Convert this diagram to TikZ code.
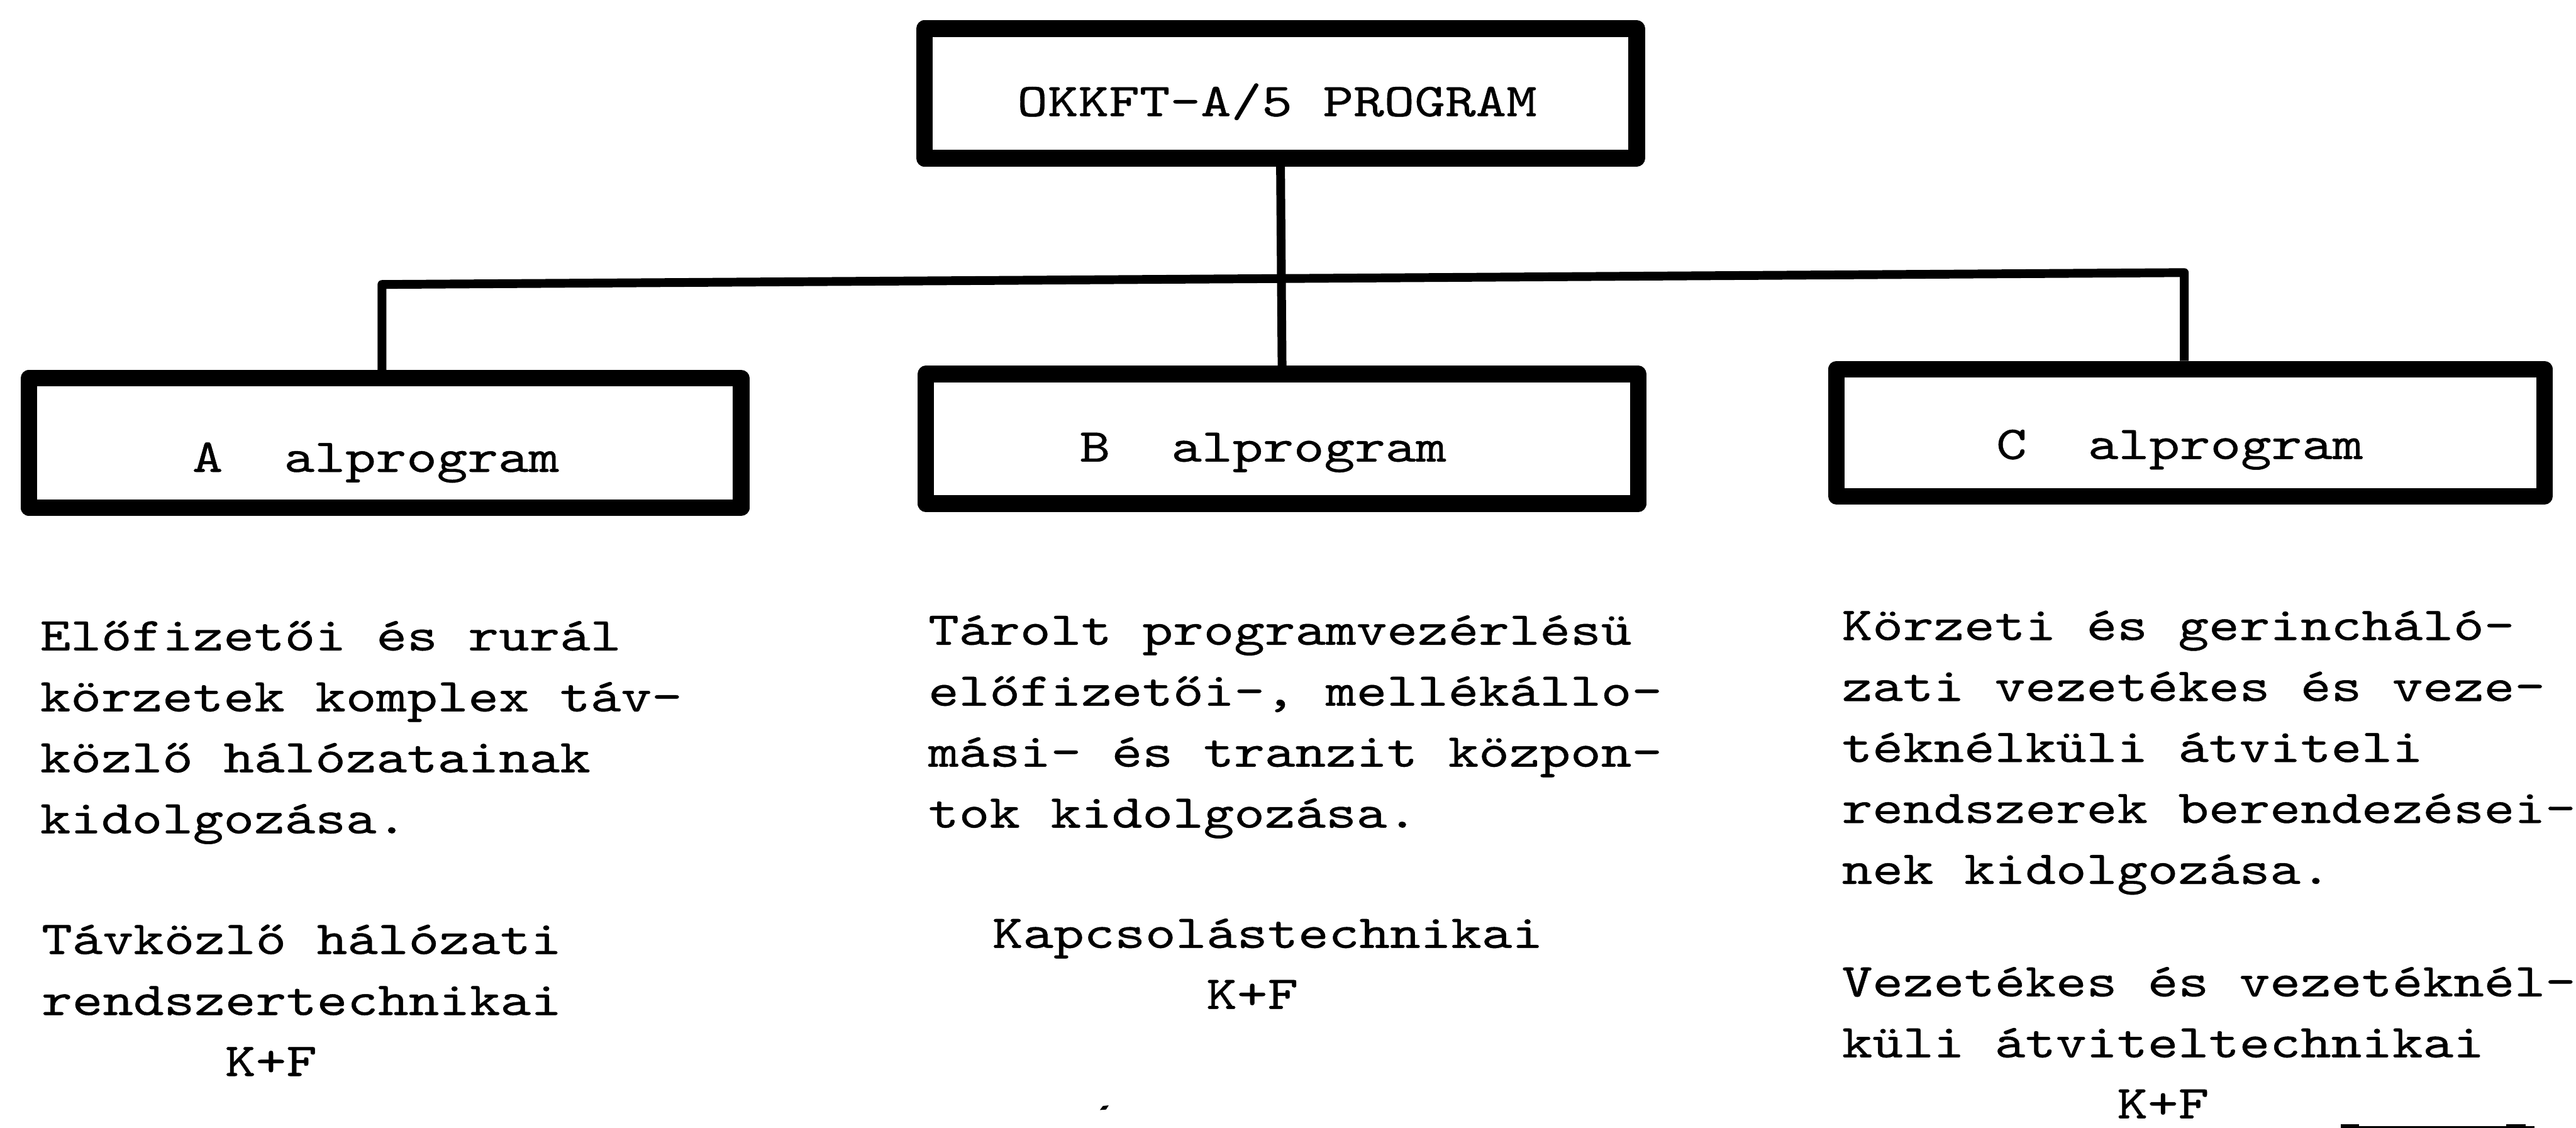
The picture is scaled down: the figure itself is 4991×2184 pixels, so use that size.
\documentclass[tikz,border=0pt]{standalone}
\usepackage{fontspec}
\newfontfamily\typewriter{lmmono10-regular}[Extension=.otf, FakeStretch=1.235, FakeBold=0.6]
\begin{document}
\begin{tikzpicture}[x=0.1mm,y=-0.1mm,
  frame/.style={draw, line width=3.2mm, line join=round, minimum width=138mm,
                minimum height=25.1mm, inner sep=0pt},
  wire/.style={line width=1.7mm, line join=round},
  tw/.style={font=\typewriter\fontsize{26pt}{33.6pt}\selectfont,
             inner sep=0pt, anchor=base west, align=left}]
\useasboundingbox (0,0) rectangle (4991,2184);

% program box and the three sub-program boxes
\node[frame] (prog) at (2481,181) {};
\node[frame] (subA) at (746,858) {};
\node[frame] (subB) at (2484,850) {};
\node[frame, minimum width=137.2mm, minimum height=24.6mm] (subC) at (4244,838) {};

% box titles
\node[tw] (progT) at (1970,225) {OKKFT-A/5 PROGRAM};
\node[tw] (subAT) at (372,914) {A~~alprogram};
\node[tw] (subBT) at (2091,894) {B~~alprogram};
\node[tw] (subCT) at (3867,889) {C~~alprogram};

% tree connectors
\coordinate (jA) at (740,551);
\coordinate (jC) at (4232,528);
\draw[wire] (subA.north -| jA) -- (jA) -- (jC) -- (subC.north -| jC);
\draw[wire] (prog.south) -- (subB.north);

% descriptions under each box (anchored at the baseline of the last line)
\node[tw] (descA) at (77,1614) {Előfizetői és rurál\\körzetek komplex táv-\\közlő hálózatainak\\kidolgozása.};
\node[tw] (techA) at (80,2084) {Távközlő hálózati\\rendszertechnikai\\\phantom{000000}K+F};

\node[tw] (descB) at (1798,1603) {Tárolt programvezérlésü\\előfizetői-, mellékállo-\\mási- és tranzit közpon-\\tok kidolgozása.};
\node[tw] (techB) at (1922,1954) {Kapcsolástechnikai\\\phantom{0000000}K+F};

\node[tw] (descC) at (3568,1712) {Körzeti és gerincháló-\\zati vezetékes és veze-\\téknélküli átviteli\\rendszerek berendezései-\\nek kidolgozása.};
\node[tw] (techC) at (3568,2166) {Vezetékes és vezetéknél-\\küli átviteltechnikai\\\phantom{000000000}K+F};

% small marks on the sheet
\fill (2131,2150) -- (2137,2142) -- (2148,2141) -- (2143,2149) -- cycle;
\draw[line width=0.6mm] (4535,2184) -- (4911,2184);
\fill (4535,2177) rectangle (4571,2184);
\fill (4856,2177) rectangle (4894,2184);
\end{tikzpicture}
\end{document}
